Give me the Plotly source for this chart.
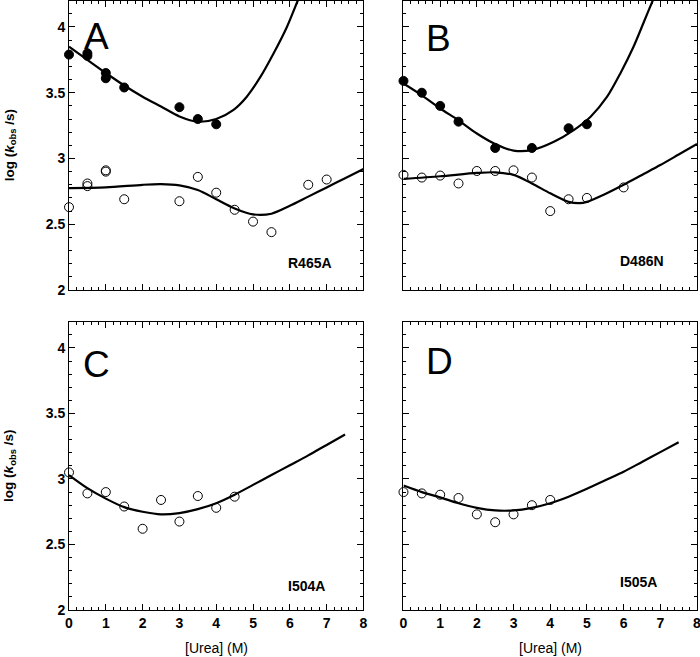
import plotly.graph_objects as go

# ---------------- data ----------------
# Panel A (R465A)
a_fill_x = [0, 0.5, 0.5, 1, 1, 1.5, 3, 3.5, 4]
a_fill_y = [3.79, 3.80, 3.78, 3.65, 3.61, 3.54, 3.39, 3.30, 3.26]
a_open_x = [0, 0.5, 0.5, 1, 1, 1.5, 3, 3.5, 4, 4.5, 5, 5.5, 6.5, 7]
a_open_y = [2.63, 2.81, 2.79, 2.91, 2.90, 2.69, 2.675, 2.86, 2.74, 2.61, 2.52, 2.44, 2.80, 2.84]
a_fit1_x = [0, 0.5, 1, 1.5, 2, 2.5, 3, 3.5, 4, 4.47, 4.83, 5.2, 5.56, 5.92, 6.2, 6.3]
a_fit1_y = [3.85, 3.75, 3.65, 3.555, 3.47, 3.395, 3.32, 3.28, 3.30, 3.37, 3.47, 3.62, 3.80, 4.0, 4.19, 4.26]
a_fit2_x = [0, 1, 2, 2.5, 3, 3.5, 4, 4.5, 5, 5.5, 6, 6.5, 7, 7.5, 8]
a_fit2_y = [2.775, 2.78, 2.80, 2.805, 2.795, 2.76, 2.69, 2.62, 2.575, 2.58, 2.64, 2.71, 2.78, 2.85, 2.92]

# Panel B (D486N)
b_fill_x = [0, 0.5, 1, 1.5, 2.5, 3.5, 4.5, 5]
b_fill_y = [3.59, 3.50, 3.40, 3.28, 3.08, 3.08, 3.23, 3.26]
b_open_x = [0, 0.5, 1, 1.5, 2, 2.5, 3, 3.5, 4, 4.5, 5, 6]
b_open_y = [2.875, 2.855, 2.87, 2.81, 2.905, 2.905, 2.91, 2.855, 2.60, 2.69, 2.70, 2.78]
b_fit1_x = [0, 0.5, 1, 1.5, 2, 2.5, 3, 3.5, 4.1, 4.64, 5.1, 5.55, 5.91, 6.27, 6.54, 6.8, 6.9]
b_fit1_y = [3.57, 3.48, 3.38, 3.29, 3.19, 3.11, 3.06, 3.064, 3.127, 3.216, 3.318, 3.47, 3.647, 3.85, 4.03, 4.205, 4.27]
b_fit2_x = [0, 1, 2, 2.5, 3, 3.5, 4, 4.5, 4.8, 5, 5.5, 6, 6.5, 7, 7.5, 8]
b_fit2_y = [2.845, 2.865, 2.89, 2.895, 2.875, 2.81, 2.735, 2.67, 2.66, 2.67, 2.73, 2.80, 2.875, 2.95, 3.03, 3.11]

# Panel C (I504A)
c_open_x = [0, 0.5, 1, 1.5, 2, 2.5, 3, 3.5, 4, 4.5]
c_open_y = [3.05, 2.89, 2.90, 2.79, 2.62, 2.84, 2.675, 2.87, 2.78, 2.865]
c_fit_x = [0, 0.5, 1, 1.5, 2, 2.5, 3, 3.5, 4, 4.5, 5, 5.5, 6, 6.5, 7, 7.5]
c_fit_y = [3.03, 2.93, 2.85, 2.785, 2.75, 2.73, 2.74, 2.77, 2.815, 2.88, 2.955, 3.03, 3.105, 3.18, 3.26, 3.34]

# Panel D (I505A)
d_open_x = [0, 0.5, 1, 1.5, 2, 2.5, 3, 3.5, 4]
d_open_y = [2.90, 2.89, 2.88, 2.855, 2.73, 2.67, 2.73, 2.80, 2.84]
d_fit_x = [0, 0.5, 1, 1.5, 2, 2.5, 3, 3.5, 4, 4.5, 5, 5.5, 6, 6.5, 7, 7.5]
d_fit_y = [2.95, 2.90, 2.86, 2.815, 2.78, 2.76, 2.76, 2.78, 2.815, 2.865, 2.925, 2.99, 3.055, 3.13, 3.205, 3.28]

panel_letters = ["A", "B", "C", "D"]
mutant_labels = ["R465A", "D486N", "I504A", "I505A"]
x_ticks = [0, 1, 2, 3, 4, 5, 6, 7, 8]
y_ticks = [2, 2.5, 3, 3.5, 4]
y_tick_text = ["2", "2.5", "3", "3.5", "4"]

# ---------------- figure ----------------
FONT = "Liberation Sans, Arial, Helvetica, sans-serif"
fig = go.Figure()


def add_fit(x, y, xa, ya):
    fig.add_trace(go.Scatter(x=x, y=y, mode="lines", xaxis=xa, yaxis=ya,
                             line=dict(color="black", width=2.2, shape="spline", smoothing=0.8),
                             showlegend=False, hoverinfo="skip"))


def add_pts(x, y, xa, ya, filled):
    if filled:
        m = dict(symbol="circle", size=9, color="black", line=dict(color="black", width=1))
    else:
        m = dict(symbol="circle-open", size=9, color="black", line=dict(color="black", width=1))
    fig.add_trace(go.Scatter(x=x, y=y, mode="markers", xaxis=xa, yaxis=ya, marker=m,
                             showlegend=False, cliponaxis=False))


add_fit(a_fit1_x, a_fit1_y, "x", "y")
add_fit(a_fit2_x, a_fit2_y, "x", "y")
add_pts(a_fill_x, a_fill_y, "x", "y", True)
add_pts(a_open_x, a_open_y, "x", "y", False)

add_fit(b_fit1_x, b_fit1_y, "x2", "y2")
add_fit(b_fit2_x, b_fit2_y, "x2", "y2")
add_pts(b_fill_x, b_fill_y, "x2", "y2", True)
add_pts(b_open_x, b_open_y, "x2", "y2", False)

add_fit(c_fit_x, c_fit_y, "x3", "y3")
add_pts(c_open_x, c_open_y, "x3", "y3", False)

add_fit(d_fit_x, d_fit_y, "x4", "y4")
add_pts(d_open_x, d_open_y, "x4", "y4", False)

# domains (pixel-derived)
W, H = 700, 657
ML, MR, MT, MB = 69, 3, 0, 47
xdomA = [0, 0.4689]
xdomB = [0.5326, 1.0]
ydomTop = [0.5246, 0.9989]
ydomBot = [0.0, 0.4725]


def xax(domain, anchor, show_labels):
    return dict(domain=domain, anchor=anchor, range=[0, 8], tickvals=x_ticks,
                showticklabels=show_labels, ticks="inside", ticklen=6, tickwidth=1,
                tickcolor="black", showline=True, linecolor="black", linewidth=1,
                mirror="allticks", showgrid=False, zeroline=False,
                ticklabeloverflow="allow",
                minor=dict(ticks="inside", ticklen=3, dtick=0.2, tickcolor="black", showgrid=False),
                tickfont=dict(family=FONT, size=14, color="black", weight="bold"))


def yax(domain, anchor, show_labels):
    return dict(domain=domain, anchor=anchor, range=[2, 4.2], tickvals=y_ticks,
                ticktext=y_tick_text, showticklabels=show_labels, ticks="inside",
                ticklen=6, tickwidth=1, tickcolor="black", showline=True,
                linecolor="black", linewidth=1, mirror="allticks", showgrid=False,
                zeroline=False, ticklabeloverflow="allow",
                minor=dict(ticks="inside", ticklen=3, dtick=0.1, tickcolor="black", showgrid=False),
                tickfont=dict(family=FONT, size=14, color="black", weight="bold"))


fig.update_layout(
    width=W, height=H, margin=dict(l=ML, r=MR, t=MT, b=MB),
    paper_bgcolor="white", plot_bgcolor="white", showlegend=False,
    xaxis=xax(xdomA, "y", False), yaxis=yax(ydomTop, "x", True),
    xaxis2=xax(xdomB, "y2", False), yaxis2=yax(ydomTop, "x2", False),
    xaxis3=xax(xdomA, "y3", True), yaxis3=yax(ydomBot, "x3", True),
    xaxis4=xax(xdomB, "y4", True), yaxis4=yax(ydomBot, "x4", False),
)

annots = []
letter_pos = [(0.735, 3.927, "x", "y"), (0.965, 3.916, "x2", "y2"),
              (0.735, 3.874, "x3", "y3"), (0.98, 3.90, "x4", "y4")]
label_pos = [(6.56, 2.205, "x", "y"), (6.51, 2.22, "x2", "y2"),
             (6.44, 2.183, "x3", "y3"), (6.40, 2.21, "x4", "y4")]
for txt, (lx, ly, xa, ya) in zip(panel_letters, letter_pos):
    annots.append(dict(text=txt, x=lx, y=ly, xref=xa, yref=ya, showarrow=False,
                       xanchor="center", yanchor="middle",
                       font=dict(family=FONT, size=37, color="black")))
for txt, (lx, ly, xa, ya) in zip(mutant_labels, label_pos):
    annots.append(dict(text=txt, x=lx, y=ly, xref=xa, yref=ya, showarrow=False,
                       xanchor="center", yanchor="middle",
                       font=dict(family=FONT, size=14, color="black", weight="bold")))

ytitle = "log (<i>k</i><sub>obs</sub> /s)"
for yc in [(ydomTop[0] + ydomTop[1]) / 2, (ydomBot[0] + ydomBot[1]) / 2]:
    annots.append(dict(text=ytitle, x=(10 - ML) / (W - ML - MR), y=yc, xref="paper", yref="paper",
                       showarrow=False, textangle=-90, xanchor="center", yanchor="middle",
                       font=dict(family=FONT, size=13.5, color="black", weight="bold")))
for xd in [xdomA, xdomB]:
    annots.append(dict(text="[Urea] (M)", x=(xd[0] + xd[1]) / 2, y=(610 - 648) / 610,
                       xref="paper", yref="paper", showarrow=False,
                       xanchor="center", yanchor="middle",
                       font=dict(family=FONT, size=14, color="black")))
fig.update_layout(annotations=annots)

fig.write_html("out.html", config={"displayModeBar": False},
               post_script="document.body.style.margin='0';document.body.style.padding='0';")
